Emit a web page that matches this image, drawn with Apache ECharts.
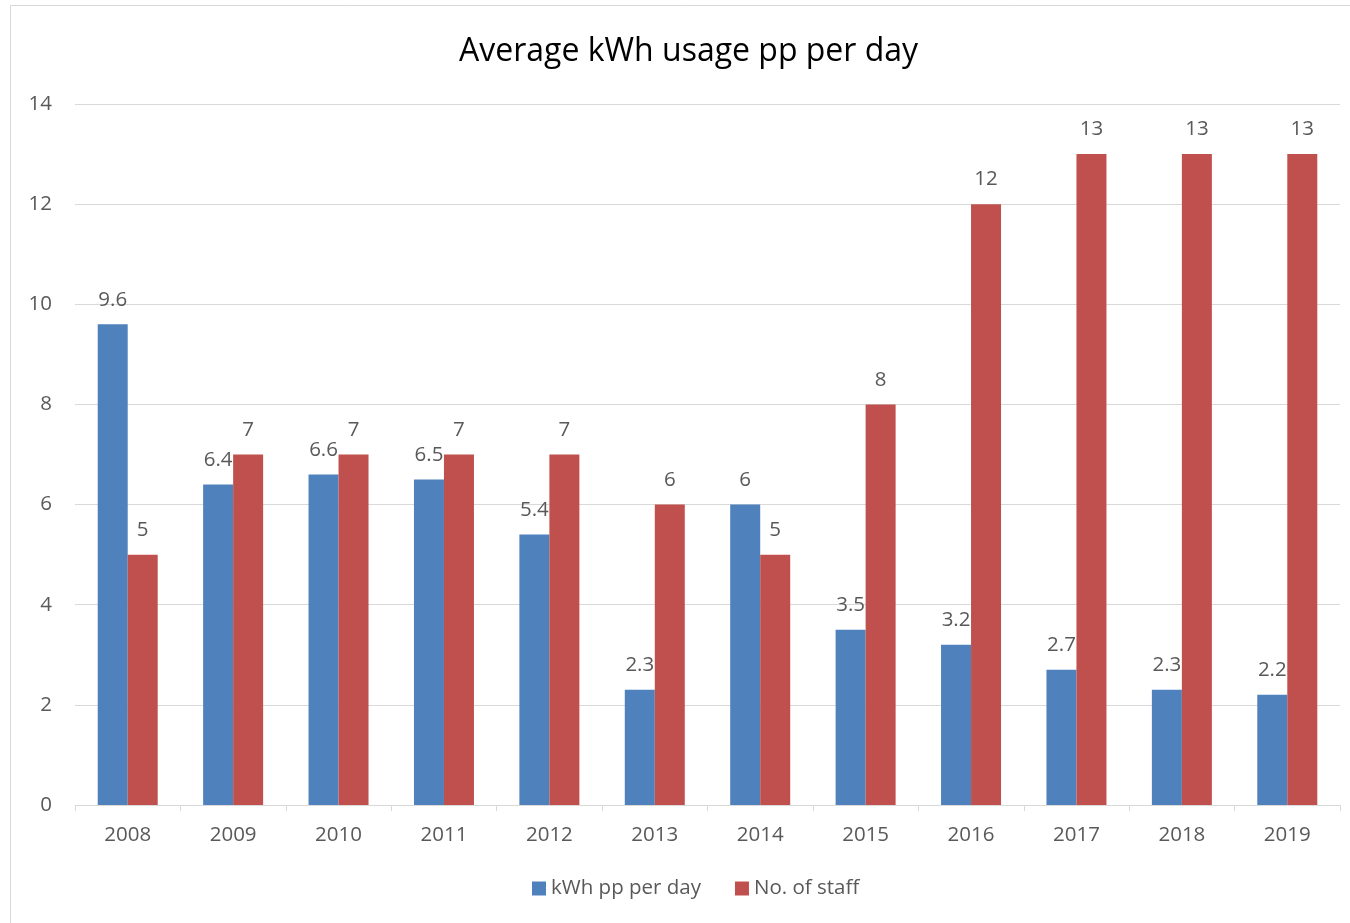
<!DOCTYPE html>
<html>
<head>
<meta charset="utf-8">
<script src="https://cdn.jsdelivr.net/npm/echarts@6/dist/echarts.min.js"></script>
<style>
  html, body { margin: 0; padding: 0; background: #fff; }
  #chart { width: 1350px; height: 923px; }
</style>
</head>
<body>
<div id="chart"></div>
<script>
// chart data
var years = ['2008', '2009', '2010', '2011', '2012', '2013', '2014', '2015', '2016', '2017', '2018', '2019']
var kwhPerDay = [9.6, 6.4, 6.6, 6.5, 5.4, 2.3, 6, 3.5, 3.2, 2.7, 2.3, 2.2]
var staffCount = [5, 7, 7, 7, 7, 6, 5, 8, 12, 13, 13, 13]

var font = '"Open Sans", "Liberation Sans", sans-serif'
var labelColor = '#595959'

var chart = echarts.init(document.getElementById('chart'))
chart.setOption({
  animation: false,
  textStyle: { fontFamily: font },
  graphic: [{
    type: 'rect',
    shape: { x: 10.5, y: 5.5, width: 1345, height: 930 },
    style: { fill: 'none', stroke: '#d9d9d9', lineWidth: 1 },
    silent: true
  }],
  title: {
    text: 'Average kWh usage pp per day',
    left: 454,
    top: 31,
    textStyle: { fontFamily: font, fontSize: 32, fontWeight: 'normal', color: '#000' }
  },
  legend: {
    bottom: 19,
    left: 527,
    itemWidth: 14,
    itemHeight: 14,
    itemGap: 34,
    icon: 'rect',
    textStyle: { fontFamily: font, fontSize: 20.5, color: labelColor }
  },
  grid: { left: 75, right: 10, top: 104, bottom: 118 },
  xAxis: {
    type: 'category',
    data: years,
    axisLine: { lineStyle: { color: '#d9d9d9' } },
    axisTick: { show: true, length: 6, lineStyle: { color: '#d9d9d9' } },
    axisLabel: { fontFamily: font, fontSize: 20.5, color: labelColor, margin: 20 }
  },
  yAxis: {
    type: 'value',
    min: 0,
    max: 14,
    interval: 2,
    axisLine: { show: false },
    axisTick: { show: false },
    splitLine: { lineStyle: { color: '#d9d9d9', width: 1 } },
    axisLabel: { fontFamily: font, fontSize: 20.5, color: labelColor, margin: 23 }
  },
  series: [{
    name: 'kWh pp per day',
    type: 'bar',
    data: kwhPerDay,
    barWidth: 30,
    barGap: '0%',
    itemStyle: { color: '#4f81bd' },
    label: { show: true, position: 'top', distance: 14, fontFamily: font, fontSize: 20.5, color: labelColor }
  }, {
    name: 'No. of staff',
    type: 'bar',
    data: staffCount,
    barWidth: 30,
    itemStyle: { color: '#c0504d' },
    label: { show: true, position: 'top', distance: 14, fontFamily: font, fontSize: 20.5, color: labelColor }
  }]
})
</script>
</body>
</html>
